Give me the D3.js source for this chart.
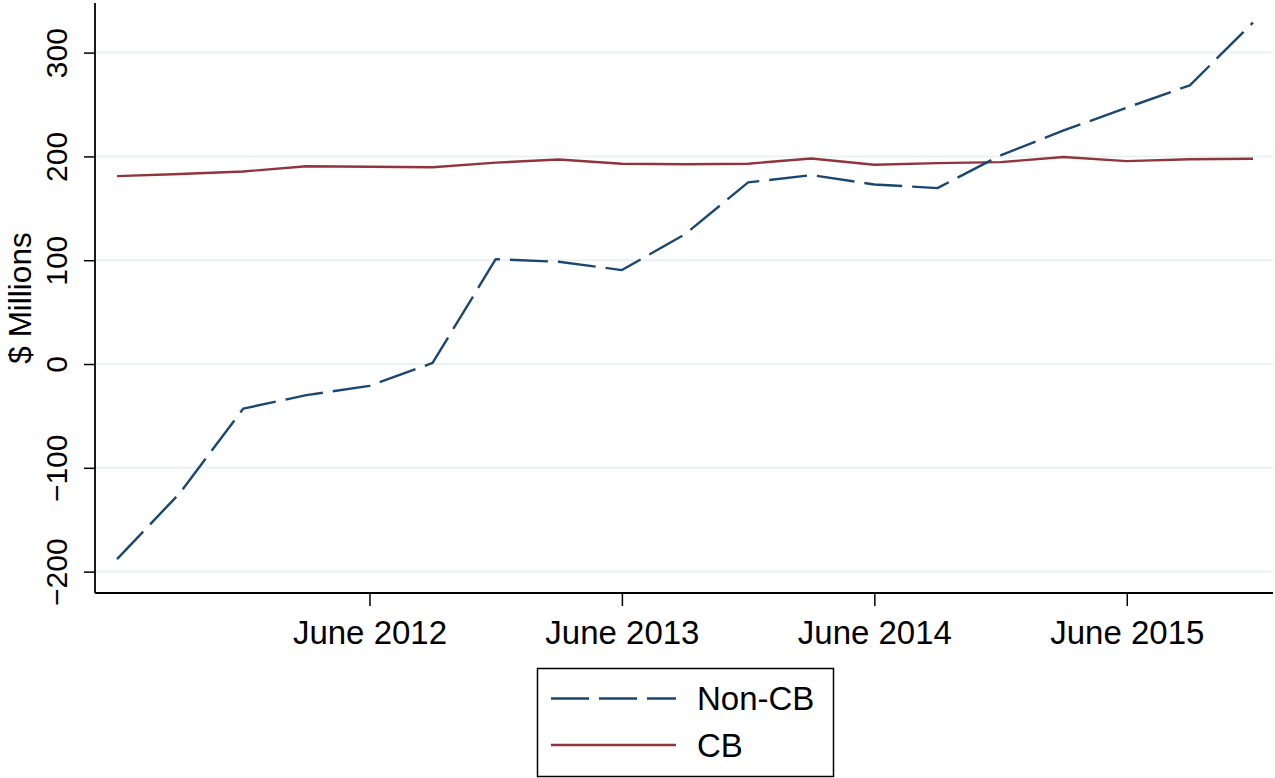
<!DOCTYPE html>
<html>
<head>
<meta charset="utf-8">
<script src="https://cdn.jsdelivr.net/npm/d3@7"></script>
<style>
  html, body { margin: 0; padding: 0; background: #fff; }
  svg { display: block; font-family: "Liberation Sans", Arial, Helvetica, sans-serif; }
</style>
</head>
<body>
<svg id="chart" width="1275" height="778"></svg>
<script>
// Quarterly observations (month-end of each quarter)
const periods = ["2011-06","2011-09","2011-12","2012-03","2012-06","2012-09","2012-12","2013-03","2013-06","2013-09","2013-12","2014-03","2014-06","2014-09","2014-12","2015-03","2015-06","2015-09","2015-12"];
const nonCB = [-188, -124, -43, -30, -21, 1, 101, 98.5, 90.5, 125, 175, 182, 173, 169.5, 201, 225, 247, 268.5, 329];
const cb    = [181, 183, 185.5, 190.5, 190, 189.5, 194, 197, 193, 192.5, 193, 198, 192, 193.5, 194.5, 199.5, 195.5, 197.2, 197.8];
const seriesNames = ["Non-CB", "CB"];
const xTickPeriods = ["2012-06","2013-06","2014-06","2015-06"];
const xTickLabels = ["June 2012","June 2013","June 2014","June 2015"];
const yTicks = [-200, -100, 0, 100, 200, 300];
const yTitle = "$ Millions";

(function () {
const svg = d3.select("#chart");
const pL = 95, pR = 1273, pT = 3, pB = 593;

const x = d3.scaleLinear().domain([-0.349, periods.length - 1 + 0.317]).range([pL, pR]);
const y = d3.scaleLinear().domain([-220.6, 347.8]).range([pB, pT]);

// gridlines
svg.append("g").selectAll("line").data(yTicks).join("line")
  .attr("x1", pL).attr("x2", pR)
  .attr("y1", d => y(d)).attr("y2", d => y(d))
  .attr("stroke", "#eaf2f3").attr("stroke-width", 2);

// y axis
const yAxis = svg.append("g").attr("transform", `translate(${pL},0)`)
  .call(d3.axisLeft(y).tickValues(yTicks).tickSize(11).tickPadding(0).tickFormat(d3.format("d")));
yAxis.select(".domain").attr("d", `M0,${pT}V${pB}`).attr("stroke", "#000").attr("stroke-width", 1.8);
yAxis.selectAll(".tick line").attr("stroke", "#000").attr("stroke-width", 1.5);
yAxis.selectAll(".tick text")
  .attr("x", null).attr("dy", null)
  .attr("transform", "translate(-28,0) rotate(-90)")
  .attr("text-anchor", "middle")
  .attr("font-size", 30).attr("fill", "#000")
  .attr("font-family", "Liberation Sans, Arial, sans-serif");

// y title
svg.append("text")
  .attr("transform", `translate(31,${(pT + pB) / 2}) rotate(-90)`)
  .attr("text-anchor", "middle")
  .attr("font-size", 31.5).attr("fill", "#000")
  .text(yTitle);

// x axis
const xIdx = xTickPeriods.map(p => periods.indexOf(p));
const xAxis = svg.append("g").attr("transform", `translate(0,${pB})`)
  .call(d3.axisBottom(x).tickValues(xIdx).tickSize(13).tickPadding(0)
    .tickFormat((d, i) => xTickLabels[i]));
xAxis.select(".domain").attr("d", `M${pL},0H${pR}`).attr("stroke", "#000").attr("stroke-width", 1.8);
xAxis.selectAll(".tick line").attr("stroke", "#000").attr("stroke-width", 1.5);
xAxis.selectAll(".tick text")
  .attr("y", 50.5).attr("dy", null)
  .attr("font-size", 33).attr("fill", "#000")
  .attr("font-family", "Liberation Sans, Arial, sans-serif");

// lines
const line = d3.line().x((d, i) => x(i)).y(d => y(d));
svg.append("path").datum(cb)
  .attr("d", line).attr("fill", "none")
  .attr("stroke", "#90353b").attr("stroke-width", 2.4).attr("stroke-linejoin", "round");
svg.append("path").datum(nonCB)
  .attr("d", line).attr("fill", "none")
  .attr("stroke", "#1a476f").attr("stroke-width", 2.4)
  .attr("stroke-dasharray", "38 10").attr("stroke-linejoin", "round");

// legend
const lg = svg.append("g");
lg.append("rect").attr("x", 537.5).attr("y", 668.5).attr("width", 296).attr("height", 108)
  .attr("fill", "#fff").attr("stroke", "#000").attr("stroke-width", 1.5);
const rows = [
  {name: seriesNames[0], color: "#1a476f", dash: "38 10", ly: 698.5, ty: 710},
  {name: seriesNames[1], color: "#90353b", dash: null, ly: 745, ty: 757}
];
rows.forEach(r => {
  lg.append("line").attr("x1", 551).attr("x2", 676).attr("y1", r.ly).attr("y2", r.ly)
    .attr("stroke", r.color).attr("stroke-width", 2.4)
    .attr("stroke-dasharray", r.dash);
  lg.append("text").attr("x", 697).attr("y", r.ty)
    .attr("font-size", 33).attr("fill", "#000").text(r.name);
});
})();
</script>
</body>
</html>
